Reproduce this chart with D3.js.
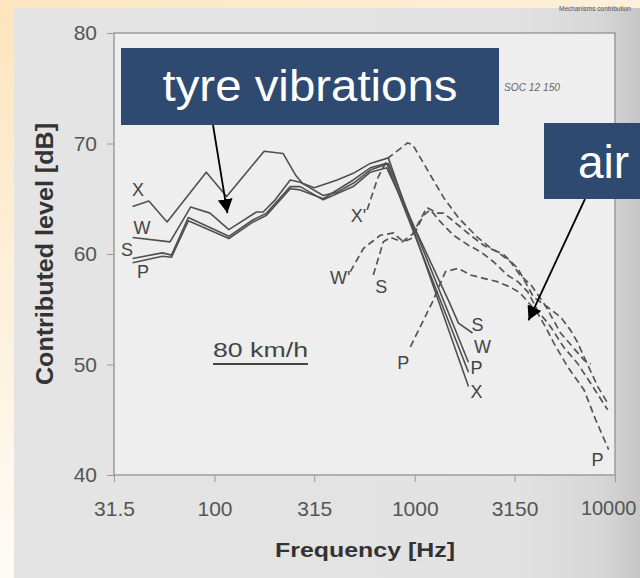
<!DOCTYPE html>
<html><head><meta charset="utf-8">
<script src="https://cdn.jsdelivr.net/npm/d3@7"></script>
<style>html,body{margin:0;padding:0;background:#fff;} svg{display:block;}</style>
</head><body>
<svg id="c" width="640" height="578"></svg>
<script>
// ---- data (frequency Hz, contributed level dB) ----
const yTicks = [40, 50, 60, 70, 80];
const xTicks = [31.5, 100, 315, 1000, 3150, 10000];
const xTickLabels = ["31.5", "100", "315", "1000", "3150", "10000"];

// tyre vibration mechanism (solid)
const solidX = [[39,64.3],[47,64.8],[58,62.9],[91,67.4],[115,65.2],[177,69.3],[220,69.1],[255,67.1],[275,66.4],[315,66.0],[410,66.7],[493,67.3],[600,68.2],[738,68.7],[1855,48.0]];
const solidW = [[39,61.5],[60,61.1],[76,64.25],[95,63.7],[118,62.2],[162,63.8],[175,63.8],[201,64.9],[239,66.7],[268,66.5],[349,65.3],[410,65.6],[493,66.4],[600,67.6],[738,68.2],[1853,50.2]];
const solidS = [[39,59.6],[55,60.1],[61,59.9],[74,63.3],[118,61.6],[156,63.1],[182,63.7],[239,66.1],[268,66.1],[349,64.9],[493,66.1],[600,67.4],[725,67.8],[1473,55.8],[1653,53.75],[1943,52.85]];
const solidP = [[39,59.2],[55,59.8],[61,59.7],[74,63.0],[118,61.4],[156,62.9],[182,63.5],[239,65.9],[268,65.8],[349,65.0],[493,66.7],[600,67.8],[725,68.2],[1855,49.3]];

// air pumping mechanism (dashed)
const dashX = [[579,64.0],[654,66.9],[738,68.7],[920,70.05],[977,69.9],[1197,67.15],[1395,65.1],[1650,63.3],[1853,62.35],[2075,61.45],[2410,60.5],[2800,59.9],[3270,58.7],[3920,56.1],[4600,55.2],[5350,54.3],[6000,53.1],[6500,52.0],[7000,50.7],[8200,48.0],[9200,46.5]];
const dashW = [[477,58.4],[554,60.5],[673,61.7],[782,61.9],[878,61.1],[974,61.45],[1105,63.5],[1197,64.0],[1345,62.9],[1560,61.7],[1853,60.8],[2135,60.2],[2470,59.3],[2900,58.1],[3270,57.5],[3660,56.6],[4105,54.9],[4778,53.4],[5528,51.6],[6505,50.1],[7556,48.3],[9189,45.9]];
const dashS = [[621,58.1],[697,61.1],[756,61.5],[867,61.1],[974,61.8],[1150,64.2],[1298,63.7],[1395,63.7],[1652,62.6],[1898,61.7],[2205,60.8],[2581,60.2],[3008,59.3],[3350,58.1],[3807,57.2],[4500,55.3],[5349,52.85],[7004,50.4],[7556,50.05]];
const dashP = [[951,51.6],[1225,55.65],[1423,58.4],[1652,58.7],[1898,58.1],[2205,57.8],[2581,57.5],[3008,57.0],[3350,56.5],[4105,54.66],[4496,53.4],[4945,51.95],[5800,49.8],[7004,47.7],[8005,45.0],[9294,42.3]];

// curve letters: [text, freq, level]
const curveLabels = [["X",41.5,65.8],["W",43.5,62.4],["S",36.6,60.45],["P",44,58.4],
  ["X'",523,63.45],["W'",425,57.9],["S",681,57.1],["P",876,50.2],
  ["S",2057,53.6],["W",2180,51.6],["P",2035,49.7],["X",2035,47.6],["P",8172,41.36]];

// annotation arrow tips [freq, level]
const tyreTip = [116, 63.7];
const airTip = [3700, 54.0];

// ---- drawing ----
const svg = d3.select("#c");
const x = d3.scaleLog().domain([31.5, 10000]).range([114, 615]);
const y = d3.scaleLinear().domain([40, 80]).range([475, 33]);
const FONT = "Liberation Sans, Arial, Helvetica, sans-serif";

const defs = svg.append("defs");
const lg = defs.append("linearGradient").attr("id","leftStrip").attr("x1",0).attr("y1",0).attr("x2",0).attr("y2",1);
lg.append("stop").attr("offset","0%").attr("stop-color","#fde5bd");
lg.append("stop").attr("offset","100%").attr("stop-color","#fefbf6");
const tg = defs.append("linearGradient").attr("id","topStrip").attr("x1",0).attr("y1",0).attr("x2",1).attr("y2",0);
tg.append("stop").attr("offset","0%").attr("stop-color","#fde6c0");
tg.append("stop").attr("offset","100%").attr("stop-color","#fdf0da");
const pg = defs.append("linearGradient").attr("id","page").attr("x1",0).attr("y1",0).attr("x2",1).attr("y2",0);
pg.append("stop").attr("offset","0%").attr("stop-color","#e4e4e4");
pg.append("stop").attr("offset","80%").attr("stop-color","#e2e2e2");
pg.append("stop").attr("offset","94%").attr("stop-color","#d6d6d6");
pg.append("stop").attr("offset","100%").attr("stop-color","#c6c6c6");
defs.append("marker").attr("id","arrow").attr("viewBox","0 0 14 15")
  .attr("refX",14).attr("refY",7.5).attr("markerWidth",14).attr("markerHeight",15)
  .attr("markerUnits","userSpaceOnUse").attr("orient","auto")
  .append("path").attr("d","M0,0 L14,7.5 L0,15 Z").attr("fill","#000");

// backgrounds
svg.append("rect").attr("x",0).attr("y",0).attr("width",640).attr("height",578).attr("fill","url(#leftStrip)");
svg.append("rect").attr("x",0).attr("y",0).attr("width",640).attr("height",8).attr("fill","url(#topStrip)");
svg.append("rect").attr("x",14).attr("y",8).attr("width",626).attr("height",570).attr("fill","url(#page)");
svg.append("rect").attr("x",x(31.5)).attr("y",y(80)).attr("width",x(10000)-x(31.5)).attr("height",y(40)-y(80))
  .attr("fill","#eeeeee").attr("stroke","#8a8a8a").attr("stroke-width",1.2);

// axes
const gy = svg.append("g").attr("transform",`translate(${x(31.5)},0)`)
  .call(d3.axisLeft(y).tickValues(yTicks).tickSize(7).tickPadding(10).tickFormat(d3.format("d")));
gy.select(".domain").remove();
gy.selectAll("line").attr("stroke","#9a9a9a");
gy.selectAll("text").attr("font-size",21).attr("fill","#555").attr("font-family",FONT);

const gx = svg.append("g").attr("transform",`translate(0,${y(40)})`)
  .call(d3.axisBottom(x).tickValues(xTicks).tickSize(7).tickPadding(19).tickFormat((d,i)=>xTickLabels[i]));
gx.select(".domain").remove();
gx.selectAll("line").attr("stroke","#9a9a9a");
gx.selectAll("text").attr("font-size",21).attr("fill","#555").attr("font-family",FONT);
// last label sits at the page edge: keep it fully inside
gx.selectAll("text").filter(d=>d===10000)
  .attr("text-anchor","end").attr("x",636-x(10000)).attr("font-size",20);

svg.append("text").attr("x",365).attr("y",557).attr("text-anchor","middle")
  .attr("font-family",FONT).attr("font-weight","bold").attr("font-size",21).attr("fill","#333")
  .attr("textLength",180).attr("lengthAdjust","spacingAndGlyphs").text("Frequency [Hz]");
svg.append("text").attr("transform","translate(53,254) rotate(-90)").attr("text-anchor","middle")
  .attr("font-family",FONT).attr("font-weight","bold").attr("font-size",23).attr("fill","#333")
  .attr("textLength",262).attr("lengthAdjust","spacingAndGlyphs").text("Contributed level [dB]");

// small scan texts
svg.append("text").attr("x",595).attr("y",11).attr("text-anchor","middle").attr("font-family",FONT)
  .attr("font-size",6.5).attr("fill","#555").text("Mechanisms contribution");
svg.append("text").attr("x",504).attr("y",91).attr("font-family",FONT).attr("font-style","italic")
  .attr("font-size",10.5).attr("fill","#666").attr("textLength",56).attr("lengthAdjust","spacingAndGlyphs").text("SOC 12 150");

// curves
const line = d3.line().x(d=>x(d[0])).y(d=>y(d[1]));
const solids = [solidX, solidW, solidS, solidP];
const dashes = [dashX, dashW, dashS, dashP];
svg.append("g").selectAll("path").data(dashes).join("path")
  .attr("d",line).attr("fill","none").attr("stroke","#555").attr("stroke-width",1.7)
  .attr("stroke-dasharray","7,4");
svg.append("g").selectAll("path").data(solids).join("path")
  .attr("d",line).attr("fill","none").attr("stroke","#505050").attr("stroke-width",1.6)
  .attr("stroke-linejoin","round");

svg.append("g").selectAll("text").data(curveLabels).join("text")
  .attr("x",d=>x(d[1])).attr("y",d=>y(d[2])).attr("dy","0.36em").attr("text-anchor","middle")
  .attr("font-family",FONT).attr("font-size",18).attr("fill","#444").text(d=>d[0]);

// 80 km/h
svg.append("text").attr("x",213).attr("y",357).attr("font-family",FONT).attr("font-size",20)
  .attr("fill","#444").attr("textLength",95).attr("lengthAdjust","spacingAndGlyphs").text("80 km/h");
svg.append("line").attr("x1",213).attr("x2",308).attr("y1",364).attr("y2",364).attr("stroke","#444").attr("stroke-width",1.8);

// annotations
svg.append("line").attr("x1",213).attr("y1",125).attr("x2",x(tyreTip[0])).attr("y2",y(tyreTip[1]))
  .attr("stroke","#000").attr("stroke-width",1.8).attr("marker-end","url(#arrow)");
svg.append("line").attr("x1",585).attr("y1",199).attr("x2",x(airTip[0])).attr("y2",y(airTip[1]))
  .attr("stroke","#000").attr("stroke-width",1.8).attr("marker-end","url(#arrow)");

svg.append("rect").attr("x",121).attr("y",48).attr("width",378).attr("height",77).attr("fill","#2e4a70");
svg.append("text").attr("x",310).attr("y",101).attr("text-anchor","middle").attr("font-family",FONT)
  .attr("font-size",44).attr("fill","#fff").attr("textLength",295).attr("lengthAdjust","spacingAndGlyphs").text("tyre vibrations");
svg.append("rect").attr("x",544).attr("y",123).attr("width",100).attr("height",76).attr("fill","#2e4a70");
svg.append("text").attr("x",578).attr("y",178).attr("font-family",FONT)
  .attr("font-size",46).attr("fill","#fff").text("air");
</script>
</body></html>
